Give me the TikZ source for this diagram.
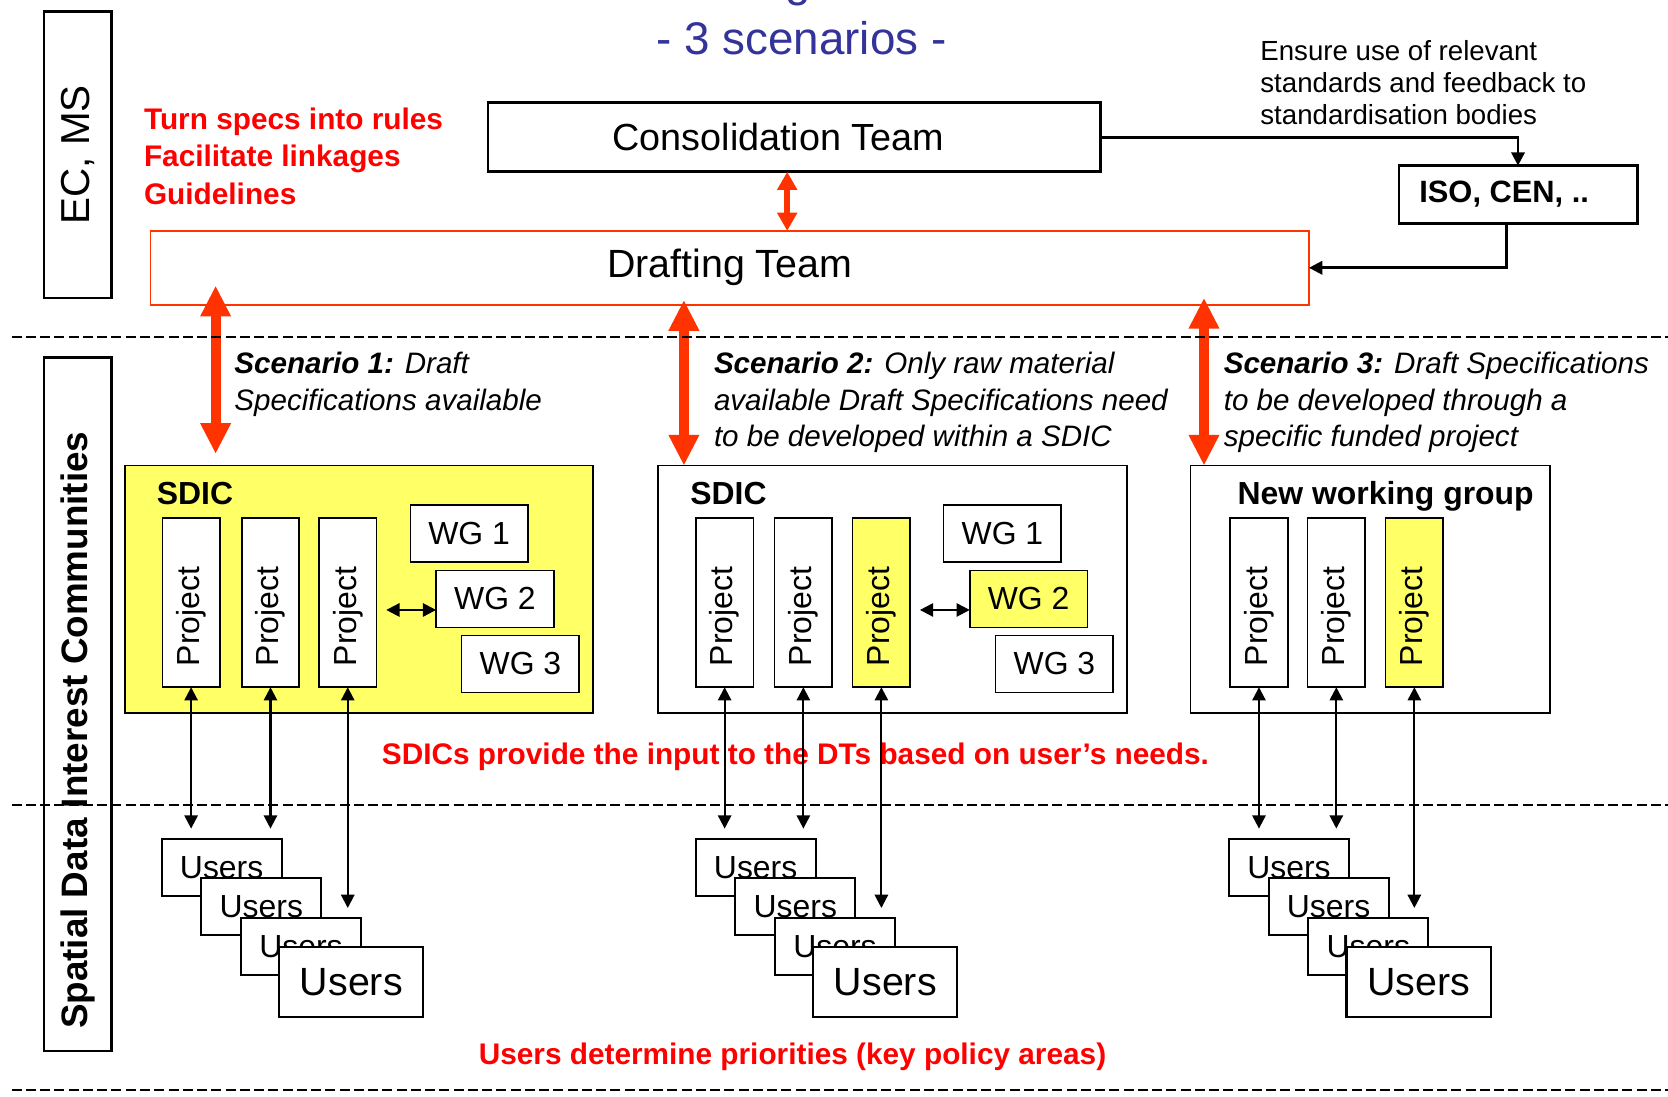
\documentclass[tikz,border=0pt]{standalone}
\usepackage{fontspec}
\setmainfont{Liberation Sans}
\usetikzlibrary{arrows.meta}

\definecolor{dtred}{RGB}{255,51,0}
\definecolor{notered}{RGB}{255,0,0}
\definecolor{titleblue}{RGB}{51,51,153}
\definecolor{sdicyellow}{RGB}{255,255,102}

\newcommand{\projlabel}{\hspace*{-13pt}Project}

\tikzset{
  box/.style={draw, inner sep=0pt, outer sep=0pt, fill=white},
  thickbox/.style={box, line width=1.25pt},
  thinbox/.style={box, line width=0.75pt},
  projbox/.style={thinbox, rotate=90, minimum width=79.5pt, minimum height=27pt, font=\fontsize{15pt}{18pt}\selectfont},
  wgbox/.style={thinbox, minimum width=55.25pt, minimum height=26.75pt, font=\fontsize{15pt}{18pt}\selectfont},
  userbox/.style={box, line width=1pt, minimum width=56.35pt, minimum height=27pt, font=\fontsize{15pt}{18pt}\selectfont},
  userfront/.style={userbox, minimum width=67.75pt, minimum height=32.9pt, font=\fontsize{18.5pt}{22pt}\selectfont},
  sdiclabel/.style={anchor=base west, inner sep=0pt, font=\bfseries\fontsize{15pt}{18pt}\selectfont},
  rednote/.style={text=notered, inner sep=0pt, font=\bfseries\fontsize{14pt}{17.8pt}\selectfont},
  scentext/.style={align=left, anchor=north west, inner sep=0pt, font=\itshape\fontsize{13.9pt}{17pt}\selectfont},
  titletext/.style={anchor=base, text=titleblue, font=\fontsize{21.5pt}{26pt}\selectfont},
  redarrow/.style={draw=dtred, line width=4.75pt, {Triangle[length=14.5pt,width=13.5pt]}-{Triangle[length=14.5pt,width=13.5pt]}},
  link/.style={line width=1pt, -{Triangle[length=6.25pt,width=6.25pt]}},
  duallink/.style={line width=1pt, {Triangle[length=6.25pt,width=6.25pt]}-{Triangle[length=6.25pt,width=6.25pt]}},
  divider/.style={line width=0.9pt, dash pattern=on 4.7pt off 2pt},
}

\begin{document}
\begin{tikzpicture}[x=0.5pt, y=-0.5pt]
\useasboundingbox (0,0) rectangle (1568,1031);

% title
\node[titletext] (titlecut) at (750,-3) {g};
\node[titletext] (title) at (753.5,50.8) {- 3 scenarios -};

% left column
\node[thickbox, rotate=90, minimum width=134.5pt, minimum height=31.75pt, font=\fontsize{19pt}{22pt}\selectfont] (ecms) at (73.25,145.5) {EC, MS};
\node[thickbox, rotate=90, minimum width=326pt, minimum height=31.75pt, font=\bfseries\fontsize{17.3pt}{20pt}\selectfont] (sdicol) at (73.25,662) {\hspace*{-24.5pt}Spatial Data Interest Communities};

% teams
\node[rednote, align=left, anchor=north west] (tasks) at (135,100.6) {Turn specs into rules\\Facilitate linkages\\Guidelines};
\node[thickbox, minimum width=288pt, minimum height=32.5pt, font=\fontsize{17.75pt}{21pt}\selectfont] (cons) at (746.75,129) {Consolidation Team\hspace*{15pt}};
\node[box, draw=dtred, line width=0.75pt, minimum width=544.5pt, minimum height=34.75pt, font=\fontsize{18.5pt}{22pt}\selectfont] (draft) at (686,251.75) {Drafting Team};
\node[thickbox, minimum width=112pt, minimum height=27.15pt, font=\bfseries\fontsize{14.5pt}{17pt}\selectfont] (iso) at (1427,182.85) {ISO, CEN, ..\hspace*{13pt}};
\node[align=left, anchor=north west, inner sep=0pt, font=\fontsize{13pt}{15.2pt}\selectfont] (ensure) at (1184.4,37.2) {Ensure use of relevant\\standards and feedback to\\standardisation bodies};

\draw[link, line width=1.25pt] (cons.east) -| (iso.north);
\draw[link, line width=1.25pt] ([xshift=-5.5pt]iso.south) |- (draft.east);

% scenarios
\node[scentext] (scen1) at (220,331) {\textbf{Scenario 1:} Draft\\Specifications available};
\node[scentext] (scen2) at (670.8,331) {\textbf{Scenario 2:} Only raw material\\available Draft Specifications need\\to be developed within a SDIC};
\node[scentext] (scen3) at (1150,331) {\textbf{Scenario 3:} Draft Specifications\\to be developed through a\\specific funded project};

\node[thinbox, fill=sdicyellow, minimum width=220pt, minimum height=116.4pt] (s1) at (337.5,554.1) {};
\node[thinbox, minimum width=220.4pt, minimum height=116.4pt] (s2) at (838.8,554.1) {};
\node[thinbox, minimum width=168.85pt, minimum height=116.4pt] (s3) at (1288.15,554.1) {};
\node[sdiclabel] (lab1) at (147,473.8) {SDIC};
\node[sdiclabel] (lab2) at (648.6,473.8) {SDIC};
\node[sdiclabel] (lab3) at (1163,473.8) {New working group};

\node[projbox] (p11) at (179.65,566.5) {\projlabel};
\node[projbox] (p12) at (254.25,566.5) {\projlabel};
\node[projbox] (p13) at (326.9,566.5) {\projlabel};
\node[projbox] (p21) at (681.2,566.5) {\projlabel};
\node[projbox] (p22) at (755.2,566.5) {\projlabel};
\node[projbox, fill=sdicyellow] (p23) at (828.55,566.5) {\projlabel};
\node[projbox] (p31) at (1183.5,566.5) {\projlabel};
\node[projbox] (p32) at (1256.2,566.5) {\projlabel};
\node[projbox, fill=sdicyellow] (p33) at (1329.55,566.5) {\projlabel};

\node[wgbox] (wg11) at (441,501.75) {WG 1};
\node[wgbox] (wg12) at (465.25,563.1) {WG 2};
\node[wgbox] (wg13) at (489.2,624.15) {WG 3};
\node[wgbox] (wg21) at (942.35,501.75) {WG 1};
\node[wgbox, fill=sdicyellow] (wg22) at (966.9,563.1) {WG 2};
\node[wgbox] (wg23) at (991.2,624.15) {WG 3};

\draw[duallink] ([shift={(4.6pt,-3.45pt)}]p13.south) -- ([yshift=-3.45pt]p13.south -| wg12.west);
\draw[duallink] ([shift={(4.6pt,-3.45pt)}]p23.south) -- ([yshift=-3.45pt]p23.south -| wg22.west);

% red links to the drafting team
\coordinate (a0) at (740,0);
\coordinate (a1) at (202.7,0);
\coordinate (a2) at (642.9,0);
\coordinate (a3) at (1131.8,0);
\draw[redarrow, line width=3pt, {Triangle[length=8.5pt,width=9pt]}-{Triangle[length=8.5pt,width=9pt]}] (cons.south -| a0) -- (draft.north -| a0);
\draw[redarrow] ([yshift=9pt]draft.south -| a1) -- ([yshift=5.5pt]s1.north -| a1);
\draw[redarrow] ([yshift=2.25pt]draft.south -| a2) -- (s2.north -| a2);
\draw[redarrow] ([yshift=3.25pt]draft.south -| a3) -- (s3.north -| a3);

% users
\node[rednote, anchor=base] (inputnote) at (747.75,719) {SDICs provide the input to the DTs based on user’s needs.};
\node[rednote, anchor=base] (prionote) at (745,1001) {Users determine priorities (key policy areas)};

\node[userbox] (u11) at (208.35,815.35) {Users};
\node[userbox] (u12) at (245.65,852.3) {Users};
\node[userbox] (u13) at (282.95,889.95) {Users};
\node[userfront] (u14) at (330.25,922.8) {Users};
\node[userbox] (u21) at (710.35,815.35) {Users};
\node[userbox] (u22) at (747.65,852.3) {Users};
\node[userbox] (u23) at (784.95,889.95) {Users};
\node[userfront] (u24) at (832.25,922.8) {Users};
\node[userbox] (u31) at (1211.65,815.35) {Users};
\node[userbox] (u32) at (1248.95,852.3) {Users};
\node[userbox] (u33) at (1286.25,889.95) {Users};
\node[userfront] (u34) at (1333.55,922.8) {Users};

\draw[duallink, shorten >=4.7pt] (p11.west) -- (p11.west |- u11.north);
\draw[duallink, shorten >=4.7pt] (p12.west) -- (p12.west |- u11.north);
\draw[duallink, shorten >=4.7pt] (p13.west) -- (p13.west |- u13.north);
\draw[duallink, shorten >=4.7pt] (p21.west) -- (p21.west |- u21.north);
\draw[duallink, shorten >=4.7pt] (p22.west) -- (p22.west |- u21.north);
\draw[duallink, shorten >=4.7pt] (p23.west) -- (p23.west |- u23.north);
\draw[duallink, shorten >=4.7pt] (p31.west) -- (p31.west |- u31.north);
\draw[duallink, shorten >=4.7pt] (p32.west) -- (p32.west |- u31.north);
\draw[duallink, shorten >=4.7pt] (p33.west) -- (p33.west |- u33.north);

% dividers
\draw[divider] (11,316.5) -- (1568,316.5);
\draw[divider] (11,756.7) -- (1568,756.7);
\draw[divider] (11,1024.6) -- (1568,1024.6);
\end{tikzpicture}
\end{document}
